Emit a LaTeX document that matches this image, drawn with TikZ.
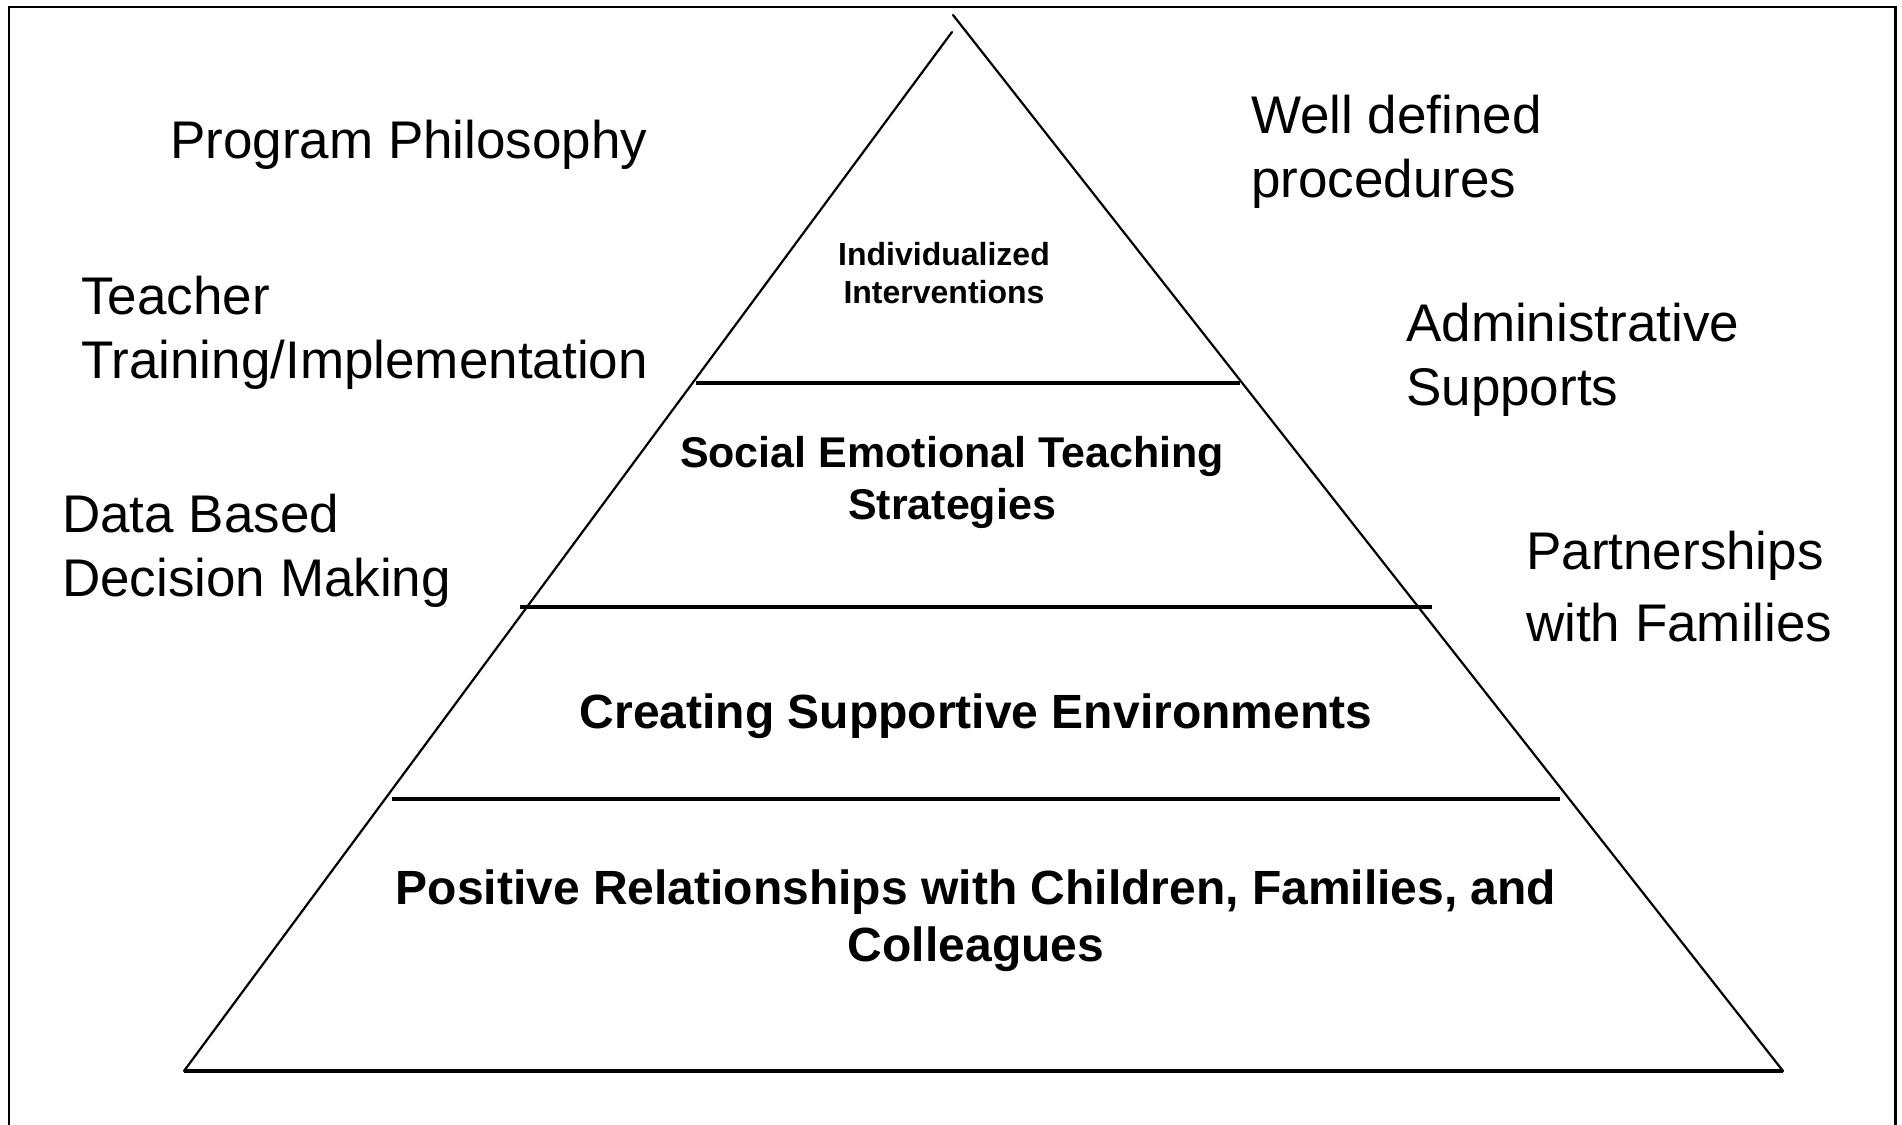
\documentclass[tikz,border=0pt]{standalone}
\usepackage{fontspec}
\setmainfont{Liberation Sans}
\tikzset{
  side/.style={line width=2.2pt, line cap=round},
  divider/.style={line width=3.2pt},
  frameline/.style={line width=2.8pt},
  outer/.style={font=\fontsize{53}{64}\selectfont, align=left, anchor=west, inner sep=0pt},
  tier/.style={font=\bfseries\fontsize{48}{57}\selectfont, align=center, inner sep=0pt},
}
\begin{document}
\begin{tikzpicture}[x=1pt,y=-1pt]
\useasboundingbox (0,0) rectangle (1902,1124);
% frame
\coordinate (fbl) at (9,1130);
\coordinate (ftl) at (9,7);
\coordinate (ftr) at (1895.5,7);
\coordinate (fbr) at (1895.5,1130);
\draw[frameline] (fbl) -- (ftl) -- (ftr) -- (fbr);
% pyramid sides
\coordinate (apl) at (952,32);
\coordinate (apr) at (953,15);
\coordinate (bl) at (184,1071);
\coordinate (br) at (1783,1071);
\draw[side] (apl) -- (bl);
\draw[side] (apr) -- (br);
\draw[divider] (bl) -- (br);
% dividers
\coordinate (d1l) at (696,383);
\coordinate (d1r) at (1240,383);
\coordinate (d2l) at (520,607);
\coordinate (d2r) at (1432,607);
\coordinate (d3l) at (392,799);
\coordinate (d3r) at (1560,799);
\draw[divider] (d1l) -- (d1r);
\draw[divider] (d2l) -- (d2r);
\draw[divider] (d3l) -- (d3r);
% tier labels
\node[tier, font=\bfseries\fontsize{32}{38}\selectfont] (t1) at (944,273) {Individualized\\Interventions};
\node[tier, font=\bfseries\fontsize{43}{52}\selectfont] (t2) at (952,482) {Social Emotional Teaching\\Strategies};
\node[tier] (t3) at (976,716) {Creating Supportive Environments};
\node[tier] (t4) at (976,921) {Positive Relationships with Children, Families, and\\Colleagues};
% outer labels
\node[outer] (pp) at (170,145) {Program Philosophy};
\node[outer] (tt) at (81,333) {Teacher\\Training/Implementation};
\node[outer] (db) at (62,551) {Data Based\\Decision Making};
\node[outer] (wd) at (1251,152) {Well defined\\procedures};
\node[outer] (as) at (1406,360) {Administrative\\Supports};
\node[outer, font=\fontsize{53}{72}\selectfont] (pf) at (1526,587) {Partnerships\\with Families};
\end{tikzpicture}
\end{document}
